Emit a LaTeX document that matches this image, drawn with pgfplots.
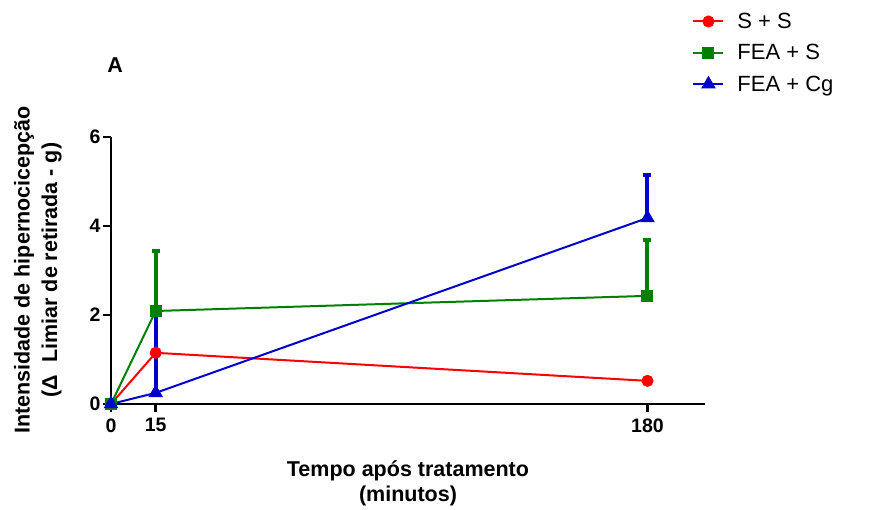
\documentclass[border=0pt]{standalone}
\usepackage{pgfplots}
\pgfplotsset{compat=1.18}
\usepackage{pgfplotstable}
\usepackage{fontspec}
\setmainfont{Liberation Sans}

\definecolor{cred}{RGB}{255,0,0}
\definecolor{cgreen}{RGB}{0,128,0}
\definecolor{cblue}{RGB}{0,0,204}

% time (min), mean, upper error
\pgfplotstableread{
t y e
0 0 0
15 1.15 0
180 0.52 0
}\tabSS
\pgfplotstableread{
t y e
0 0 0
15 2.09 1.35
180 2.43 1.26
}\tabFEAS
\pgfplotstableread{
t y e
0 0 0
15 0.25 1.79
180 4.18 0.97
}\tabFEACg

\begin{document}
\begin{tikzpicture}
\path[use as bounding box] (0pt,0pt) rectangle (872pt,510pt);
\begin{axis}[
  at={(111pt,106pt)}, anchor=south west,
  width=594pt, height=267pt, scale only axis,
  xmin=0, xmax=199.3, ymin=0, ymax=6,
  axis x line=bottom, axis y line=left,
  axis line style={-, line width=2.7pt, black},
  clip=false,
  xtick={0,15,180}, ytick={0,2,4,6},
  tick align=outside,
  major tick length=8pt,
  xtick style={black, line width=2.5pt},
  ytick style={black, line width=2.5pt},
  /pgf/number format/assume math mode=true,
  tick label style={font=\bfseries\fontsize{19.5}{19.5}\selectfont},
  xticklabel style={yshift=-3pt},
  yticklabel style={xshift=1pt},
  xlabel={Tempo após tratamento\\(minutos)},
  xlabel style={at={(axis description cs:0.5,-0.296)}, anchor=center, align=center,
    font=\bfseries\fontsize{21.5}{25}\selectfont},
  ylabel={Intensidade de hipernocicepção\\(Δ\ \ Limiar de retirada - g)},
  ylabel style={at={(axis description cs:-0.123,0.502)}, anchor=center, align=center, rotate=0,
    font=\bfseries\fontsize{21.5}{27.5}\selectfont},
  legend style={at={(axis description cs:0.9735,1.48)}, anchor=north west,
    draw=none, fill=none, font=\fontsize{22}{24}\selectfont, row sep=10.5pt},
  legend cell align=left,
  legend image code/.code={\draw[mark repeat=2,mark phase=2,#1] plot coordinates {(0pt,0pt) (15pt,0pt) (30pt,0pt)}; \path (41pt,0pt);},
]
\addplot[cred, line width=2pt, mark=*, mark size=5pt, mark options={solid}]
  table[x=t, y=y] {\tabSS};
\addlegendentry{S + S}
\addplot[cgreen, line width=2pt, mark=square*, mark size=5pt, mark options={solid},
  error bars/.cd, y dir=plus, y explicit,
  error bar style={line width=4pt, cgreen},
  error mark options={rotate=90, line width=3.5pt, mark size=4pt, cgreen}]
  table[x=t, y=y, y error=e] {\tabFEAS};
\addlegendentry{FEA + S}
\addplot[cblue, line width=2pt, mark=triangle*, mark size=6.5pt, mark options={solid},
  error bars/.cd, y dir=plus, y explicit,
  error bar style={line width=4pt, cblue},
  error mark options={rotate=90, line width=3.5pt, mark size=4pt, cblue}]
  table[x=t, y=y, y error=e] {\tabFEACg};
\addlegendentry{FEA + Cg}
\node[font=\bfseries\fontsize{21.5}{24}\selectfont] at (axis description cs:0.007,1.27) {A};
\end{axis}
\end{tikzpicture}
\end{document}
